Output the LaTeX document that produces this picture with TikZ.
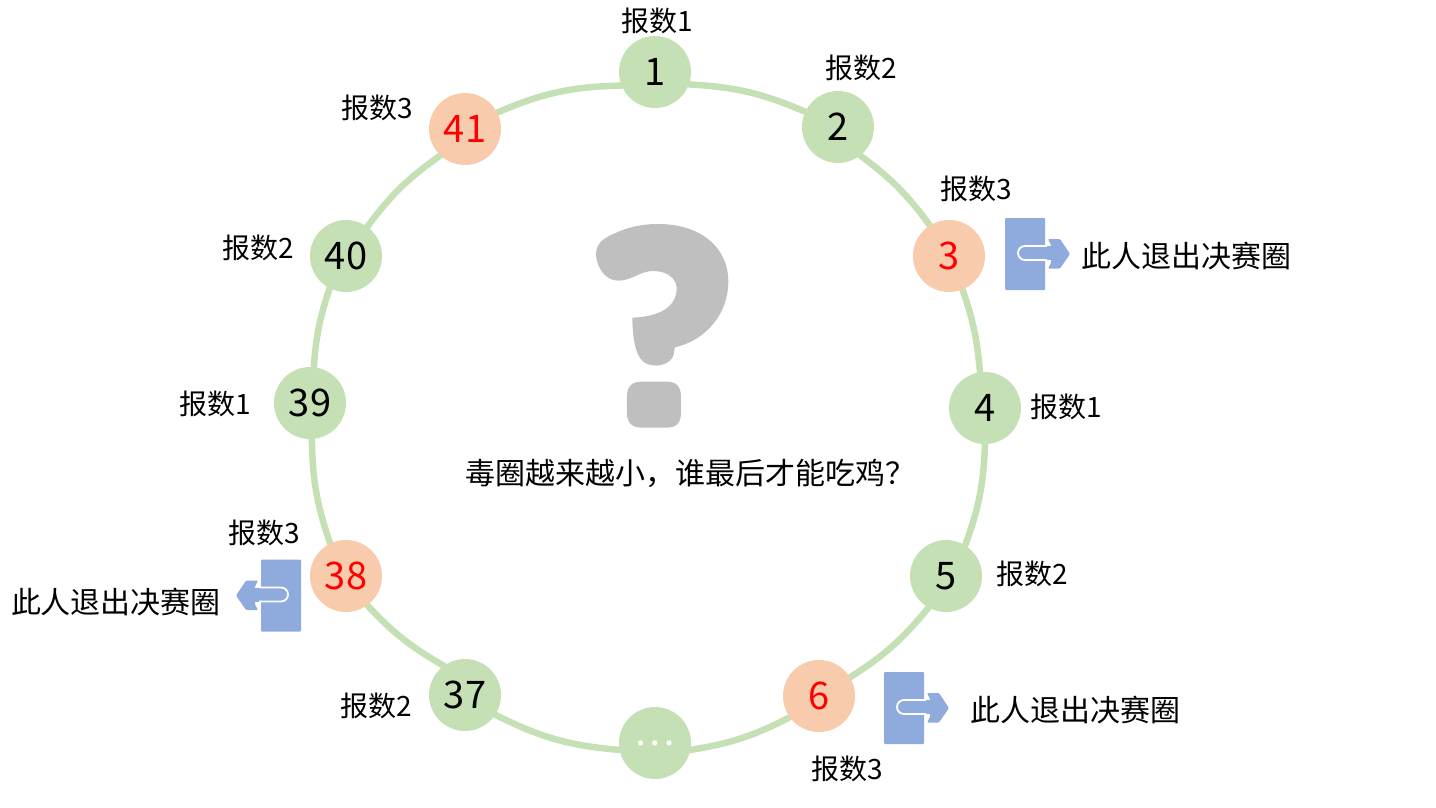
\documentclass[tikz,border=0pt]{standalone}
\usepackage{fontspec}
\usetikzlibrary{backgrounds}
\setmainfont{Noto Sans CJK SC}
\definecolor{ringgreen}{HTML}{C5E0B4}
\definecolor{outorange}{HTML}{F8CBAD}
\definecolor{iconblue}{HTML}{8FAADC}
\definecolor{qgray}{HTML}{BFBFBF}
\tikzset{
  person/.style={circle,minimum size=72pt,inner sep=0pt,fill=ringgreen,font=\fontsize{38}{38}\selectfont,text=black},
  outperson/.style={person,fill=outorange,text=red},
  count/.style={inner sep=0pt,font=\fontsize{28}{28}\selectfont},
  note/.style={inner sep=0pt,font=\fontsize{30}{30}\selectfont},
  ring/.style={draw=ringgreen,line width=6.5pt,line cap=round},
  exiticon/.pic={
    \fill[iconblue,rounded corners=1pt] (0,0) rectangle (40,72);
    \fill[iconblue] (40,28) rectangle (46,42);
    \fill[iconblue,rounded corners=1pt] (43,21) -- (55,21) -- (65,36) -- (55,50.5) -- (43,50.5) -- (46,45) -- (46,27) -- cycle;
    \draw[white,line width=1.8pt] (42,28) -- (20,28) arc[start angle=270,end angle=90,radius=7] -- (42,42);
  }
}
\begin{document}
\begin{tikzpicture}[x=1pt,y=-1pt]
\useasboundingbox (0,0) rectangle (1436,808);
\node[person] (n1) at (655,72) {1};
\node[person] (n2) at (838,127) {2};
\node[outperson] (n3) at (949,256) {3};
\node[person] (n4) at (985,408) {4};
\node[person] (n5) at (946,576) {5};
\node[outperson] (n6) at (819,696) {6};
\node[person,text=white] (ndots) at (655,743) {…};
\node[person] (n37) at (465,695) {37};
\node[outperson] (n38) at (346,576) {38};
\node[person] (n39) at (310,403) {39};
\node[person] (n40) at (346,256) {40};
\node[outperson] (n41) at (465,129) {41};
\begin{scope}[on background layer]
\draw[ring] (n1.-20) to[bend left=10] (n2.155);
\draw[ring] (n2.-52) to[bend left=8.5] (n3.122);
\draw[ring] (n3.-68) to[bend left=7] (n4.98);
\draw[ring] (n4.-90) to[bend left=9] (n5.58);
\draw[ring] (n5.241) to[bend left=9] (n6.31);
\draw[ring] (n6.216) to[bend left=9] (ndots.-11);
\draw[ring] (ndots.191) to[bend left=11] (n37.-33);
\draw[ring] (n37.126) to[bend left=8.5] (n38.-54);
\draw[ring] (n38.116) to[bend left=9] (n39.-87);
\draw[ring] (n39.84) to[bend left=7] (n40.243);
\draw[ring] (n40.54) to[bend left=9] (n41.227);
\draw[ring] (n41.27) to[bend left=11] (n1.202);
\end{scope}
\node[count] (c1) at (657,21) {报数1};
\node[count] (c2) at (861,68) {报数2};
\node[count] (c3) at (976,189) {报数3};
\node[count] (c4) at (1066,407) {报数1};
\node[count] (c5) at (1032,574) {报数2};
\node[count] (c6) at (847,769) {报数3};
\node[count] (c37) at (376,706) {报数2};
\node[count] (c38) at (264,533) {报数3};
\node[count] (c39) at (215,404) {报数1};
\node[count] (c40) at (258,248) {报数2};
\node[count] (c41) at (377,108) {报数3};
\node[note] (e3) at (1186,256) {此人退出决赛圈};
\node[note] (e6) at (1075,710) {此人退出决赛圈};
\node[note] (e38) at (116,602) {此人退出决赛圈};
\node[note] (title) at (690,473) {毒圈越来越小，谁最后才能吃鸡？};
\pic at (1005,218) {exiticon};
\pic at (884,672) {exiticon};
\pic[xscale=-1] at (301,559.5) {exiticon};
\begin{scope}[shift={(450,210)},x=0.3333pt,y=-0.3333pt]
\fill[qgray] (438,130) .. controls (440,100) and (460,85) .. (490,72)
  .. controls (530,52) and (575,42) .. (625,42)
  .. controls (750,42) and (835,110) .. (835,215)
  .. controls (835,310) and (770,390) .. (675,412)
  .. controls (670,425) and (675,440) .. (660,452)
  .. controls (640,470) and (600,472) .. (580,455)
  .. controls (555,435) and (548,380) .. (547,323)
  .. controls (630,320) and (680,290) .. (680,235)
  .. controls (680,205) and (650,183) .. (610,183)
  .. controls (570,183) and (545,212) .. (505,212)
  .. controls (465,212) and (438,170) .. (438,130) -- cycle;
\fill[qgray] (531,560) .. controls (531,530) and (545,515) .. (575,515)
  -- (650,515) .. controls (680,515) and (693,530) .. (693,560)
  -- (693,608) .. controls (693,638) and (680,653) .. (650,653)
  -- (575,653) .. controls (545,653) and (531,638) .. (531,608) -- cycle;
\end{scope}
\end{tikzpicture}
\end{document}
